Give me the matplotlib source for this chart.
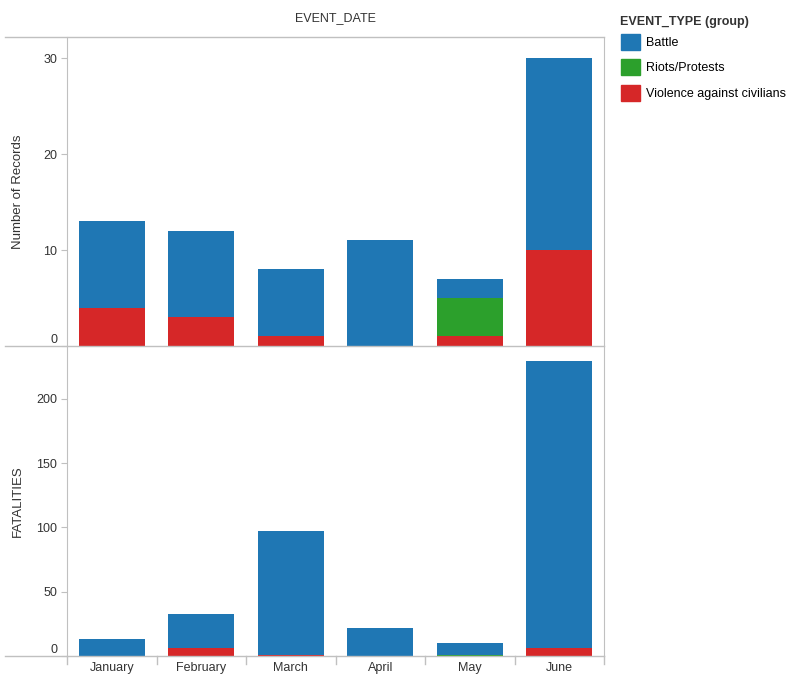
import numpy as np
import matplotlib
matplotlib.use('Agg')
import matplotlib.pyplot as plt
from matplotlib.patches import Patch
from matplotlib.lines import Line2D

plt.rcParams['font.family'] = ['Liberation Sans', 'DejaVu Sans']

months = ['January', 'February', 'March', 'April', 'May', 'June']
types = ['Battle', 'Riots/Protests', 'Violence against civilians']
colors = {'Battle': '#1f77b4', 'Riots/Protests': '#2ca02c',
          'Violence against civilians': '#d62728'}

# number of records by month
rec_violence = [4, 3, 1, 0, 1, 10]
rec_riots = [0, 0, 0, 0, 4, 0]
rec_battle = [9, 9, 7, 11, 2, 20]

# fatalities by month
fat_violence = [0, 6, 1, 0, 0, 6]
fat_riots = [0, 0, 0, 0, 1, 0]
fat_battle = [13, 27, 96, 22, 9, 223]

grey = '#c0c0c0'
fig = plt.figure(figsize=(8.05, 6.74), dpi=100)
ax1 = fig.add_axes([67/805, 1-346/674, (604-67)/805, (346-37)/674])
ax2 = fig.add_axes([67/805, 1-656/674, (604-67)/805, (656-346)/674])

x = np.arange(len(months))

def stack(ax, viol, riots, battle, ymax, ticks):
    b = np.zeros(len(months))
    for vals, name in [(viol, 'Violence against civilians'), (riots, 'Riots/Protests'), (battle, 'Battle')]:
        ax.bar(x, vals, bottom=b, width=0.74, color=colors[name], linewidth=0)
        b = b + np.array(vals)
    ax.set_xlim(-0.5, 5.5)
    ax.set_ylim(0, ymax)
    ax.set_yticks(ticks)
    ax.tick_params(axis='y', length=4, color=grey, labelsize=9, labelcolor='#333333', pad=3)
    for s in ['top', 'bottom']:
        ax.spines[s].set_visible(False)
    ax.spines['left'].set_color(grey)
    ax.spines['right'].set_color(grey)
    labs = ax.get_yticklabels()
    labs[0].set_va('bottom')

stack(ax1, rec_violence, rec_riots, rec_battle, 32.2, [0, 10, 20, 30])
stack(ax2, fat_violence, fat_riots, fat_battle, 241, [0, 50, 100, 150, 200])

ax1.set_xticks([])
ax2.set_xticks(x)
ax2.set_xticklabels(months, fontsize=9, color='#333333')
ax2.tick_params(axis='x', length=0, pad=4)
for k in range(7):
    ax2.plot([k - 0.5, k - 0.5], [0, -0.025], transform=ax2.get_xaxis_transform(),
             color=grey, lw=1, clip_on=False)

ax1.set_ylabel('Number of Records', fontsize=9.5, color='#333333')
ax2.set_ylabel('FATALITIES', fontsize=9.5, color='#333333')
ax1.yaxis.set_label_coords(-43/537, 0.5)
ax2.yaxis.set_label_coords(-43/537, 0.5)

# horizontal separator lines
for yy in [37, 346, 656]:
    fig.add_artist(Line2D([5/805, 604/805], [1-yy/674, 1-yy/674], color=grey, lw=1))

fig.text(335/805, 1-18/674, 'EVENT_DATE', ha='center', va='center', fontsize=9, color='#333333')

# legend
fig.text(620/805, 1-22/674, 'EVENT_TYPE (group)', ha='left', va='center',
         fontsize=9, fontweight='bold', color='#333333')
handles = [Patch(color=colors[t]) for t in types]
fig.legend(handles, types, loc='upper left', bbox_to_anchor=(612/805, 1-25/674),
           frameon=False, fontsize=9, handlelength=1.5, handleheight=1.6,
           handletextpad=0.5, labelspacing=0.75, borderpad=0.2)

fig.savefig('out.png', dpi=100)
